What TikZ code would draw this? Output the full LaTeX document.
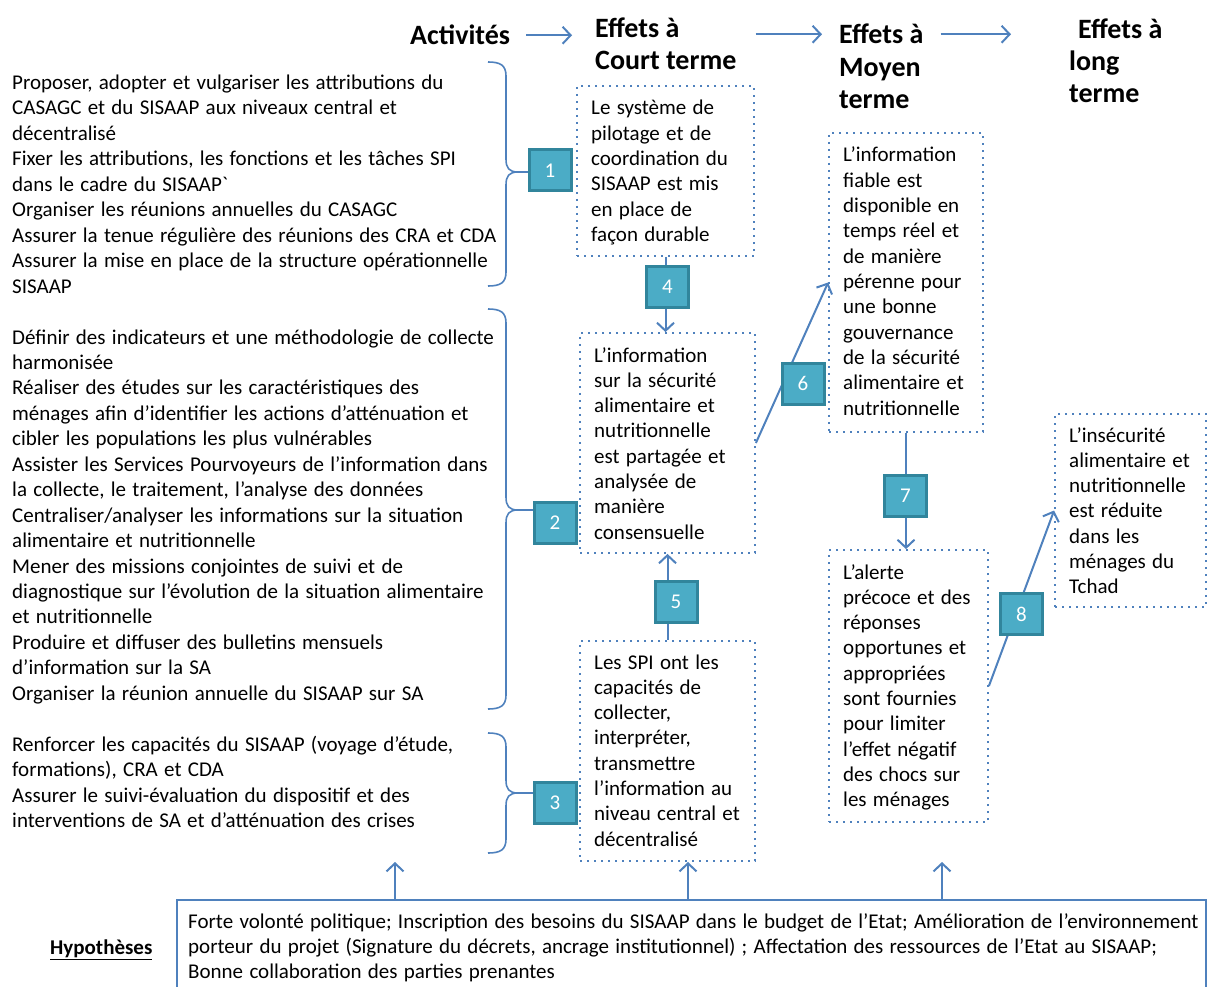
\documentclass[tikz,border=0pt]{standalone}
\usepackage{fontspec}
\setmainfont{Carlito}
\usetikzlibrary{arrows.meta}

\definecolor{bleu}{RGB}{79,129,189}
\definecolor{turq}{RGB}{75,172,198}
\definecolor{turqfonce}{RGB}{49,133,156}

\newcommand\corps{\fontsize{21}{25}\selectfont\spaceskip=6.3pt plus 2pt minus 1pt\relax}

\tikzset{
  ligne/.style={anchor=base west, inner sep=0pt, font=\corps},
  titre/.style={anchor=base west, inner sep=0pt, font=\fontsize{28}{32}\selectfont\bfseries},
  effet/.style={draw=bleu, line width=1.8pt, dash pattern=on 1.8pt off 5.2pt},
  num/.style={fill=turq, draw=turqfonce, line width=3pt, minimum width=42pt,
    minimum height=41pt, inner sep=0pt, text=white, font=\fontsize{21}{21}\selectfont},
  fleche/.style={draw=bleu, line width=2pt, -{Straight Barb[length=8pt,width=17pt]}},
  trait/.style={draw=bleu, line width=2pt},
  accolade/.style={draw=bleu, line width=1.6pt},
}

\begin{document}
\begin{tikzpicture}[x=1pt,y=-1pt]
  \useasboundingbox (0,0) rectangle (1208,987);
  \clip (0,0) rectangle (1208,987);

  % cadres
  \node[effet, minimum width=177pt, minimum height=170pt] (ct1) at (665.5,171) {};
  \node[effet, minimum width=175pt, minimum height=220pt] (ct2) at (667.5,443) {};
  \node[effet, minimum width=175pt, minimum height=220pt] (ct3) at (667.5,751) {};
  \node[effet, minimum width=154pt, minimum height=299pt] (mt1) at (906,282.5) {};
  \node[effet, minimum width=159pt, minimum height=272pt] (mt2) at (908.5,686) {};
  \node[effet, minimum width=151pt, minimum height=193pt] (lt1) at (1130.5,510.5) {};
  \node[draw=bleu, line width=1.5pt, minimum width=1029pt, minimum height=100pt] (hyp) at (691.5,950) {};

  % titres
  \node[titre] (hact) at (410,45) {Activités};
  \foreach \i/\t in {0/{Effets à}, 1/{Court terme}} {
    \node[titre] (hct-\i) at (595,38+\i*32) {\t};
  }
  \foreach \i/\t in {0/{Effets à}, 1/{Moyen}, 2/{terme}} {
    \node[titre] (hmt-\i) at (839,44+\i*32.5) {\t};
  }
  \node[titre] (hlt-0) at (1078,39) {Effets à};
  \foreach \i/\t in {1/{long}, 2/{terme}} {
    \node[titre] (hlt-\i) at (1069,39+\i*32) {\t};
  }
  \draw[fleche, shorten <=16pt, shorten >=23pt] (hact.east) -- (hact.east -| hct-0.west);
  \draw[fleche, shorten <=19pt, shorten >=17pt] (hct-1.east |- hmt-0.west) -- (hmt-0.west);
  \draw[fleche, shorten <=17pt, shorten >=58pt] (hmt-0.east) -- (hmt-0.east -| hlt-1.west);

  % activites
  \foreach \i/\t in {0/{Proposer, adopter et vulgariser les attributions du},
      1/{CASAGC et du SISAAP aux niveaux central et}, 2/{décentralisé},
      3/{Fixer les attributions, les fonctions et les tâches SPI},
      4/{dans le cadre du SISAAP\textasciigrave}, 5/{Organiser les réunions annuelles du CASAGC},
      6/{Assurer la tenue régulière des réunions des CRA et CDA},
      7/{Assurer la mise en place de la structure opérationnelle}, 8/{SISAAP},
      10/{Définir des indicateurs et une méthodologie de collecte}, 11/{harmonisée},
      12/{Réaliser des études sur les caractéristiques des},
      13/{ménages afin d’identifier les actions d’atténuation et},
      14/{cibler les populations les plus vulnérables},
      15/{Assister les Services Pourvoyeurs de l’information dans},
      16/{la collecte, le traitement, l’analyse des données},
      17/{Centraliser/analyser les informations sur la situation},
      18/{alimentaire et nutritionnelle}, 19/{Mener des missions conjointes de suivi et de},
      20/{diagnostique sur l’évolution de la situation alimentaire},
      21/{et nutritionnelle}, 22/{Produire et diffuser des bulletins mensuels},
      23/{d’information sur la SA}, 24/{Organiser la réunion annuelle du SISAAP sur SA},
      26/{Renforcer les capacités du SISAAP (voyage d’étude,},
      27/{formations), CRA et CDA}, 28/{Assurer le suivi-évaluation du dispositif et des},
      29/{interventions de SA et d’atténuation des crises}} {
    \node[ligne] (act-\i) at (12,89.5+\i*25.45) {\t};
  }

  % effets
  \foreach \i/\t in {0/{Le système de}, 1/{pilotage et de}, 2/{coordination du},
      3/{SISAAP est mis}, 4/{en place de}, 5/{façon durable}} {
    \node[ligne] (ct1-\i) at (591,115+\i*25.3) {\t};
  }
  \foreach \i/\t in {0/{L’information}, 1/{sur la sécurité}, 2/{alimentaire et},
      3/{nutritionnelle}, 4/{est partagée et}, 5/{analysée de}, 6/{manière}, 7/{consensuelle}} {
    \node[ligne] (ct2-\i) at (594,362+\i*25.3) {\t};
  }
  \foreach \i/\t in {0/{Les SPI ont les}, 1/{capacités de}, 2/{collecter,}, 3/{interpréter,},
      4/{transmettre}, 5/{l’information au}, 6/{niveau central et}, 7/{décentralisé}} {
    \node[ligne] (ct3-\i) at (594,669+\i*25.3) {\t};
  }
  \foreach \i/\t in {0/{L’information}, 1/{fiable est}, 2/{disponible en}, 3/{temps réel et},
      4/{de manière}, 5/{pérenne pour}, 6/{une bonne}, 7/{gouvernance}, 8/{de la sécurité},
      9/{alimentaire et}, 10/{nutritionnelle}} {
    \node[ligne] (mt1-\i) at (843,162+\i*25.3) {\t};
  }
  \foreach \i/\t in {0/{L’alerte}, 1/{précoce et des}, 2/{réponses}, 3/{opportunes et},
      4/{appropriées}, 5/{sont fournies}, 6/{pour limiter}, 7/{l’effet négatif},
      8/{des chocs sur}, 9/{les ménages}} {
    \node[ligne] (mt2-\i) at (843,579+\i*25.3) {\t};
  }
  \foreach \i/\t in {0/{L’insécurité}, 1/{alimentaire et}, 2/{nutritionnelle}, 3/{est réduite},
      4/{dans les}, 5/{ménages du}, 6/{Tchad}} {
    \node[ligne] (lt1-\i) at (1069,442+\i*25.3) {\t};
  }

  % hypotheses
  \node[ligne, font=\corps\bfseries] (hlab) at (50,954) {\underline{Hypothèses}};
  \foreach \i/\t in {0/{Forte volonté politique; Inscription des besoins du SISAAP dans le budget de l’Etat; Amélioration de l’environnement},
      1/{porteur du projet (Signature du décrets, ancrage institutionnel) ; Affectation des ressources de l’Etat au SISAAP;},
      2/{Bonne collaboration des parties prenantes}} {
    \node[ligne] (hyp-\i) at (188,928+\i*25) {\t};
  }
  \coordinate (ha1) at (395,862);
  \coordinate (ha2) at (688,862);
  \coordinate (ha3) at (942,862);
  \foreach \c in {ha1,ha2,ha3} {
    \draw[fleche] (hyp.north -| \c) -- (\c);
  }

  % accolades
  \foreach \h/\p/\b in {62/172/286, 309/510/709, 733/793/853} {
    \draw[accolade] (488,\h) .. controls (500,\h) and (506,\h+3) .. (506,\h+14)
      -- (506,\p-13) .. controls (506,\p-4) and (509,\p) .. (518,\p) -- (540,\p);
    \draw[accolade] (518,\p) .. controls (509,\p) and (506,\p+4) .. (506,\p+13)
      -- (506,\b-14) .. controls (506,\b-3) and (500,\b) .. (488,\b);
  }

  % liens
  \draw[fleche] (ct1.south) -- (ct1.south |- ct2.north);
  \draw[fleche] (ct3.north) -- (ct2.south);
  \draw[fleche] (ct2.east) -- (mt1.west);
  \draw[fleche] (mt1.south) -- (mt1.south |- mt2.north);
  \draw[fleche] (mt2.east) -- (lt1.west);

  % numeros
  \foreach \n/\x/\y in {1/550/170.5, 2/555/523, 3/555/803, 4/667.5/287, 5/676/602,
      6/803/383.5, 7/905.5/496, 8/1021.5/614} {
    \node[num] (n\n) at (\x,\y) {\n};
  }
\end{tikzpicture}
\end{document}
